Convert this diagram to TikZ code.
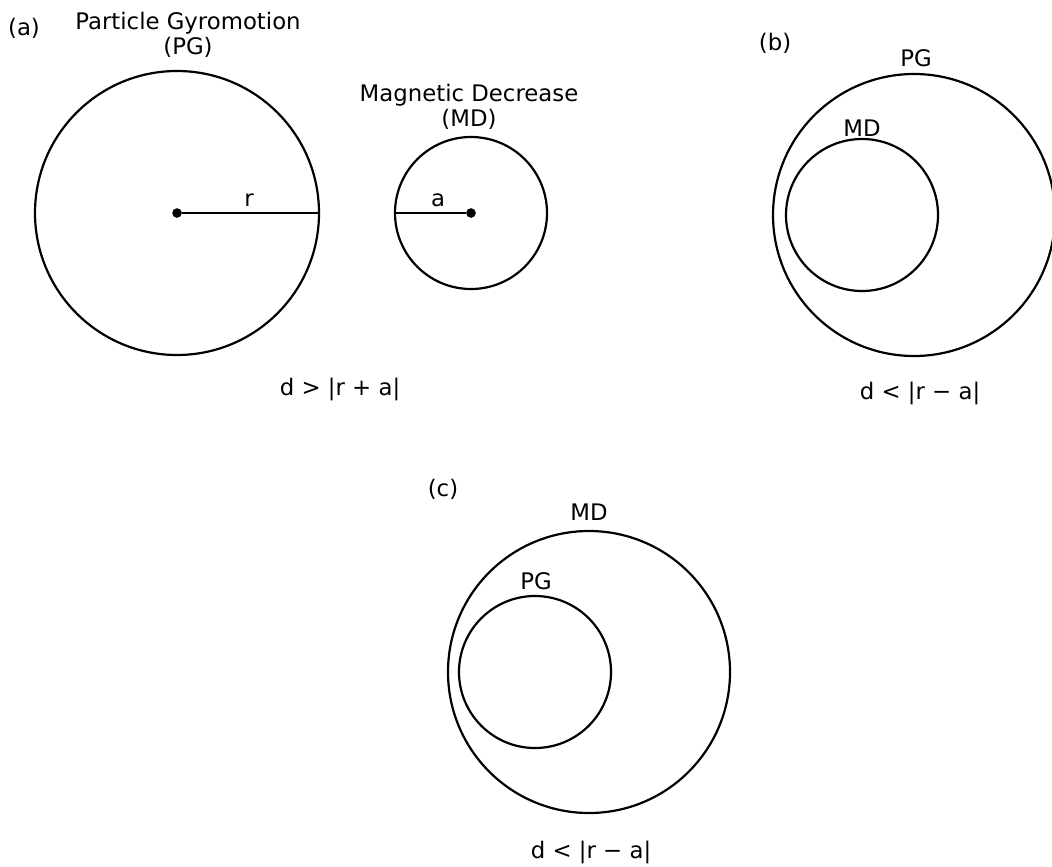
\documentclass[tikz,border=0pt]{standalone}
\usepackage{fontspec}
\setmainfont{DejaVu Sans}
\usetikzlibrary{positioning}
\tikzset{
  ring/.style={line width=1.1pt,black},
  ctr/.style={circle,fill=black,inner sep=1.7pt},
  rad/.style={line width=1.1pt},
  lbl/.style={font=\fontsize{11.4}{12.8}\selectfont,inner sep=0pt,align=center},
}
\begin{document}
\begin{tikzpicture}[x=0.5pt,y=-0.5pt]
  \clip (0,0) rectangle (1052,866);
  % (a) separate circles
  \node[lbl] (tagA) at (24,28) {(a)};
  \node[lbl] (pgA) at (188,35) {Particle Gyromotion\\(PG)};
  \node[lbl] (mdA) at (469,107) {Magnetic Decrease\\(MD)};
  \node[ctr] (pgcA) at (177,213) {};
  \coordinate (pgrA) at (319,213);
  \draw[ring] (pgcA.center) circle[radius=142];
  \draw[rad] (pgcA) -- (pgrA);
  \node[lbl] (rA) at (249,200) {r};
  \node[ctr] (mdcA) at (471,213) {};
  \coordinate (mdrA) at (395,213);
  \draw[ring] (mdcA.center) circle[radius=76];
  \draw[rad] (mdcA) -- (mdrA);
  \node[lbl] (aA) at (438,200) {a};
  \node[lbl] (dA) at (340,389) {d > |r + a|};
  % (b) MD inside PG
  \node[lbl] (tagB) at (775,43) {(b)};
  \coordinate (pgcB) at (914,215);
  \coordinate (mdcB) at (862,215);
  \draw[ring] (pgcB) circle[radius=141];
  \draw[ring] (mdcB) circle[radius=76];
  \node[lbl] (pgB) at (916,58) {PG};
  \node[lbl] (mdB) at (862,128) {MD};
  \node[lbl] (dB) at (920,393) {d < |r − a|};
  % (c) PG inside MD
  \node[lbl] (tagC) at (443,489) {(c)};
  \coordinate (mdcC) at (589,672);
  \coordinate (pgcC) at (535,672);
  \draw[ring] (mdcC) circle[radius=141];
  \draw[ring] (pgcC) circle[radius=76];
  \node[lbl] (mdC) at (589,512) {MD};
  \node[lbl] (pgC) at (536,581) {PG};
  \node[lbl] (dC) at (591,852) {d < |r − a|};
\end{tikzpicture}
\end{document}
